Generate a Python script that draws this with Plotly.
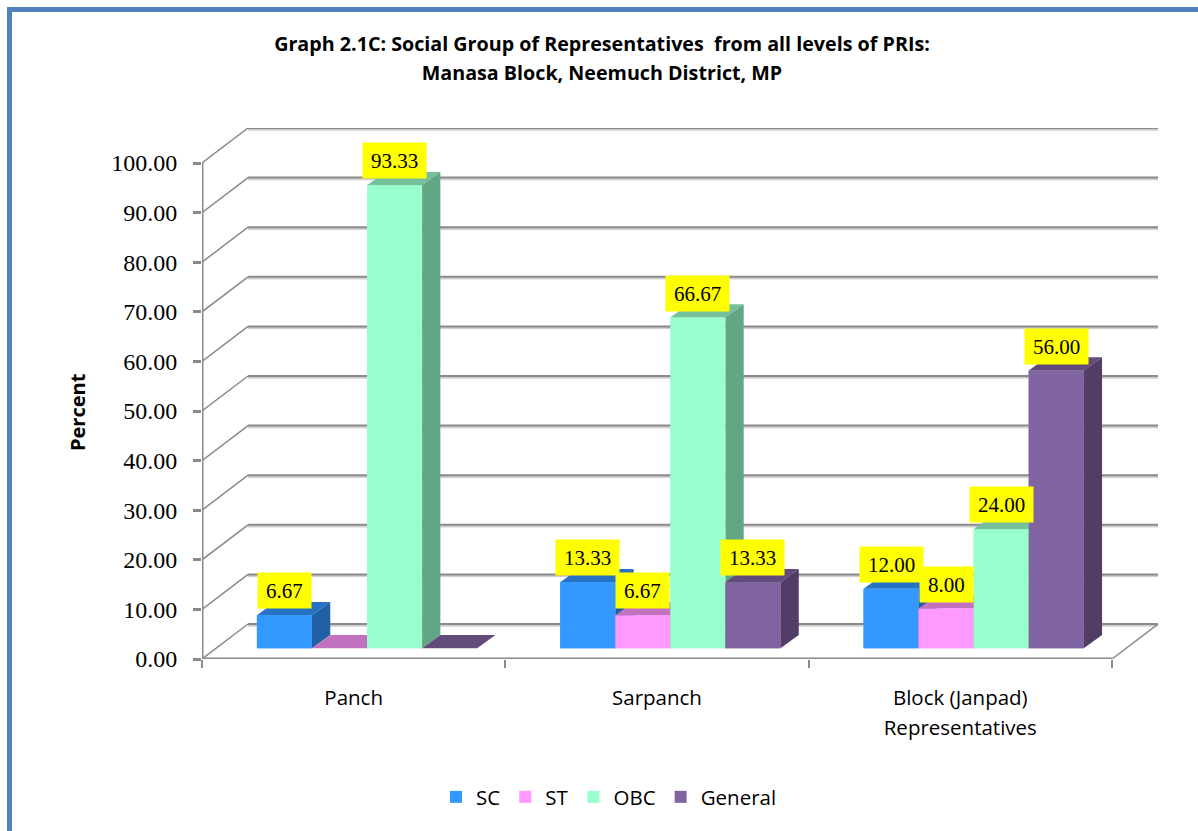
import plotly.graph_objects as go

categories = ["Panch", "Sarpanch", "Block (Janpad)<br>Representatives"]
series_names = ["SC", "ST", "OBC", "General"]
sc = [6.67, 13.33, 12.00]
st = [0, 6.67, 8.00]
obc = [93.33, 66.67, 24.00]
general = [0, 13.33, 56.00]
y_ticks = [0, 10, 20, 30, 40, 50, 60, 70, 80, 90, 100]

front_colors = ["#3399FF", "#FF99FF", "#99FFCC", "#8064A2"]
top_colors = ["#2673C4", "#C272BF", "#73C09A", "#624B7B"]
side_colors = ["#1F60A6", "#A05C9E", "#62A685", "#523D66"]

# the fake 3d box, in axis units (303 px per category, 4.96 px per percent)
BAR_W = 0.1815
GROUP_OFFSET = 0.181
FLOOR = 2.16
DEPTH_X = 0.0604
DEPTH_Y = 2.68
WALL_X = 0.1518
WALL_Y = 7.06
GRID = "#8A8A8A"
SHADOW = "#CFCFCF"
TEXT_FONT = "Liberation Serif"
SANS = "Open Sans"

all_values = [sc, st, obc, general]
fig = go.Figure()

# plain bars underneath, they carry the data and the legend
for s, name in enumerate(series_names):
    fig.add_trace(go.Bar(
        x=[i + GROUP_OFFSET + (s + 0.5) * BAR_W for i in range(len(categories))],
        y=all_values[s], base=FLOOR, width=BAR_W, name=name,
        marker=dict(color=front_colors[s], line_width=0)
    ))

# back wall, left wall and floor
back_x, back_y, shadow_y, diag_x, diag_y = [], [], [], [], []
for t in y_ticks:
    back_x += [WALL_X, 3 + WALL_X, None]
    back_y += [t + WALL_Y, t + WALL_Y, None]
    shadow_y += [t + WALL_Y - 0.35, t + WALL_Y - 0.35, None]
    diag_x += [0, WALL_X, None]
    diag_y += [t, t + WALL_Y, None]
diag_x += [3, 3 + WALL_X]
diag_y += [0, WALL_Y]


def wall_line(xs, ys, color, width):
    fig.add_trace(go.Scatter(x=xs, y=ys, mode="lines", line=dict(color=color, width=width),
                             showlegend=False, hoverinfo="skip", cliponaxis=False))


wall_line(back_x, shadow_y, SHADOW, 2)
wall_line(back_x, back_y, GRID, 2)
wall_line(diag_x, diag_y, GRID, 1.5)
wall_line([0, 3], [-0.4, -0.4], SHADOW, 2)
wall_line([0, 0, None, 0, 3], [0, 100, None, 0, 0], GRID, 3)


def face(xs, ys, color):
    fig.add_trace(go.Scatter(x=xs, y=ys, mode="lines", fill="toself", fillcolor=color,
                             line=dict(width=0, color=color), showlegend=False, hoverinfo="skip"))


for i in range(len(categories)):
    for s in range(len(series_names)):
        v = all_values[s][i]
        x0 = i + GROUP_OFFSET + s * BAR_W
        x1 = x0 + BAR_W
        y0 = FLOOR
        y1 = FLOOR + v
        face([x0, x1, x1 + DEPTH_X, x0 + DEPTH_X, x0], [y1, y1, y1 + DEPTH_Y, y1 + DEPTH_Y, y1], top_colors[s])
        if v > 0:
            face([x1, x1 + DEPTH_X, x1 + DEPTH_X, x1, x1],
                 [y0, y0 + DEPTH_Y, y1 + DEPTH_Y, y1, y0], side_colors[s])
            face([x0, x1, x1, x0, x0], [y0, y0, y1, y1, y0], front_colors[s])

# value labels on yellow boxes
for s in range(len(series_names)):
    for i in range(len(categories)):
        v = all_values[s][i]
        if v > 0:
            fig.add_annotation(x=i + GROUP_OFFSET + (s + 0.5) * BAR_W, y=FLOOR + v, text=f"{v:.2f}",
                               showarrow=False, yanchor="bottom", yshift=6, bgcolor="#FFFF00",
                               borderpad=8, height=19, font=dict(family=TEXT_FONT, size=21, color="black"))

fig.add_annotation(text="<b>Percent</b>", xref="paper", yref="paper", x=(77 - 202) / 956, y=(659 - 412) / 531,
                   xanchor="center", yanchor="middle", textangle=-90, showarrow=False,
                   font=dict(family=SANS, size=20, color="black"))

# frame of the original picture, only left and top are visible
frame = [(7, 12, 7, 831), (7, 1198, 7, 12)]
for x0, x1, y0, y1 in frame:
    fig.add_shape(type="rect", xref="paper", yref="paper", x0=(x0 - 202) / 956, x1=(x1 - 202) / 956,
                  y0=(659 - y0) / 531, y1=(659 - y1) / 531, fillcolor="#4F81BD", line_width=0, layer="above")

fig.update_layout(
    width=1198, height=831,
    margin=dict(l=202, r=40, t=128, b=172, autoexpand=False),
    paper_bgcolor="white", plot_bgcolor="white",
    barmode="overlay",
    title=dict(
        text="<b><span style='font-size:19.7px'>Graph 2.1C: Social Group of Representatives  from all levels of PRIs:"
             "<br>Manasa Block, Neemuch District, MP</span></b>",
        x=602 / 1198, xanchor="center", y=1 - 51 / 831, yanchor="top",
        font=dict(family=SANS, size=22.5, color="black")
    ),
    xaxis=dict(
        range=[0, 3 + WALL_X], showgrid=False, zeroline=False, showline=False,
        tickmode="array", tickvals=[0.5, 1.5, 2.5],
        ticktext=[f"<span style='font-size:20.5px'>{c}</span>" for c in categories],
        ticks="", ticklabelstandoff=22, tickfont=dict(family=SANS, size=23, color="black"),
        minor=dict(tickmode="array", tickvals=[0, 1, 2, 3], ticks="outside", ticklen=8, tickwidth=2, tickcolor=GRID)
    ),
    yaxis=dict(
        range=[0, 531 / 4.96], showgrid=False, zeroline=False, showline=False,
        tickmode="array", tickvals=y_ticks, tickformat=".2f",
        ticks="outside", ticklen=8, tickwidth=2.5, tickcolor=GRID, ticklabelstandoff=11,
        tickfont=dict(family=TEXT_FONT, size=24, color="black")
    ),
    legend=dict(orientation="h", x=(609 - 202) / 956, xanchor="center", y=(659 - 797) / 531, yanchor="middle",
                font=dict(family=SANS, size=20.5, color="black"))
)

fig.write_html("out.html", config=dict(displayModeBar=False),
               post_script="document.body.style.margin='0';")
